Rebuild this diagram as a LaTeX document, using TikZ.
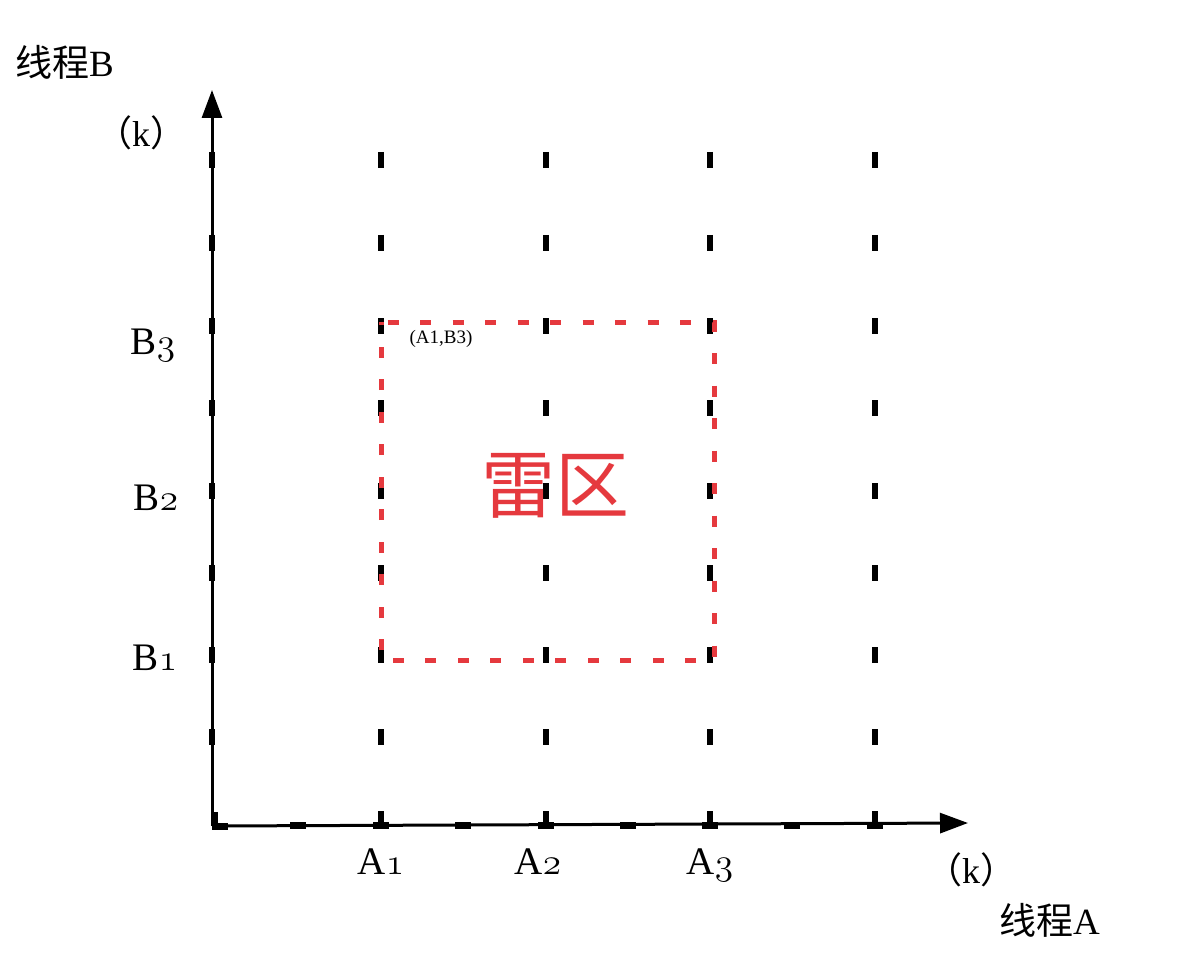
\documentclass[tikz,border=0pt]{standalone}
\usepackage{fontspec}
\usepackage{graphicx}
\setmainfont{Liberation Serif}
\newfontfamily\cjk{Noto Sans CJK SC}
\usetikzlibrary{arrows.meta}
\definecolor{mine}{RGB}{229,57,62}
\newcommand\osn[1]{\scalebox{1.5}{\fontencoding{OML}\fontfamily{cmm}\fontseries{m}\fontshape{it}\fontsize{24.88}{26}\selectfont #1}}
\begin{document}
\begin{tikzpicture}[x=1pt,y=-1pt,
  axis/.style={line width=3pt,-{Triangle[length=28pt,width=20pt]}},
  vt/.style={line width=6pt,line cap=butt},
  ht/.style={line width=7pt,line cap=butt},
  lbl/.style={font=\fontsize{39}{42}\selectfont,inner sep=0pt,anchor=base},
  kl/.style={font=\fontsize{36}{38}\selectfont,inner sep=0pt},
  thr/.style={font=\fontsize{37}{40}\selectfont,inner sep=0pt},
  zone/.style={draw=mine,line width=5pt,dash pattern=on 11pt off 21.5pt,dash phase=26pt}]
\useasboundingbox (0,0) rectangle (1202,960);
% axes
\coordinate (O) at (212,826);
\coordinate (Yt) at (212,90);
\coordinate (Xt) at (968,823);
\draw[axis] (O) -- (Yt);
\draw[axis] (O) -- (Xt);
% y-axis ticks
\foreach \y in {160,243,326,408,491,573,655,737}
  \draw[vt] (212,\y-8) -- (212,\y+8);
% origin block
\draw[vt] (215,812) -- (215,829);
\draw[ht] (212,826) -- (228,826);
% x-axis ticks
\foreach \x in {298,381,463,546,628,710,792,875}
  \draw[ht] (\x-8,825) -- (\x+8,825);
% grid columns
\foreach \x in {381,546,710,875}{
  \foreach \y in {160,243,326,408,491,573,655,737}
    \draw[vt] (\x,\y-8) -- (\x,\y+8);
  \draw[vt] (\x,811) -- (\x,825);
}
% mine zone
\coordinate (Z1) at (381,322);
\coordinate (Z2) at (714,322);
\coordinate (Z3) at (714,660);
\coordinate (Z4) at (381,660);
\draw[zone] (Z1) -- (Z2) -- (Z3) -- (Z4) -- cycle;
\node[font=\fontsize{19}{21}\selectfont,inner sep=0pt] (a1b3) at (441,339) {(A1,B3)};
\node[font=\cjk\fontsize{74}{80}\selectfont,text=mine,inner sep=0pt] (lq) at (555,486) {雷区};
% labels
\node[lbl] (B3) at (153,354) {B\osn{3}};
\node[lbl] (B2) at (156,510) {B\osn{2}};
\node[lbl] (B1) at (155,670) {B\osn{1}};
\node[lbl] (A1) at (381,874) {A\osn{1}};
\node[lbl] (A2) at (538,874) {A\osn{2}};
\node[lbl] (A3) at (710,874) {A\osn{3}};
\node[kl] (ky) at (141,133) {{\cjk （}k{\cjk ）}};
\node[kl] (kx) at (971,870) {{\cjk （}k{\cjk ）}};
\node[thr,anchor=west] (tb) at (15,62) {{\cjk 线程}B};
\node[thr,anchor=west] (ta) at (999,920) {{\cjk 线程}A};
\end{tikzpicture}
\end{document}
